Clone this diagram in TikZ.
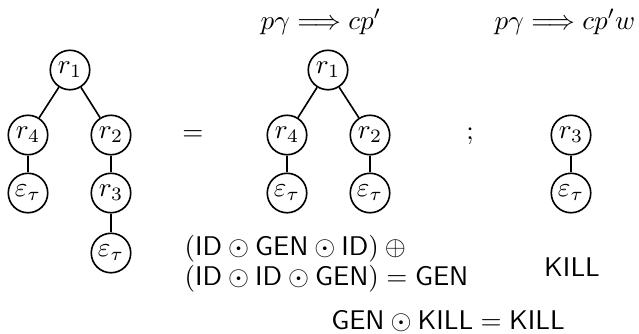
\documentclass[tikz,border=0pt]{standalone}
\begin{document}
\begin{tikzpicture}[x=0.37pt,y=-0.37pt,
  tn/.style={circle,draw,line width=0.6pt,minimum size=14.6pt,inner sep=0pt},
  edge/.style={line width=0.6pt},
  lbl/.style={inner sep=0pt,anchor=base}]
\useasboundingbox (0,0) rectangle (639,333);
% left tree
\node[tn] (a1) at (70,70) {$r_1$};
\node[tn] (a4) at (28,135) {$r_4$};
\node[tn] (a2) at (111,135) {$r_2$};
\node[tn] (ae1) at (28,193) {$\varepsilon_\tau$};
\node[tn] (a3) at (111,193) {$r_3$};
\node[tn] (ae2) at (111,253) {$\varepsilon_\tau$};
\draw[edge] (a1) -- (a4);
\draw[edge] (a1) -- (a2);
\draw[edge] (a4) -- (ae1);
\draw[edge] (a2) -- (a3);
\draw[edge] (a3) -- (ae2);
% middle tree
\node[tn] (b1) at (328,70) {$r_1$};
\node[tn] (b4) at (287,135) {$r_4$};
\node[tn] (b2) at (370,135) {$r_2$};
\node[tn] (be1) at (287,193) {$\varepsilon_\tau$};
\node[tn] (be2) at (370,193) {$\varepsilon_\tau$};
\draw[edge] (b1) -- (b4);
\draw[edge] (b1) -- (b2);
\draw[edge] (b4) -- (be1);
\draw[edge] (b2) -- (be2);
% right tree
\node[tn] (c3) at (571,135) {$r_3$};
\node[tn] (ce) at (571,193) {$\varepsilon_\tau$};
\draw[edge] (c3) -- (ce);
% symbols and labels
\node[lbl] (eq) at (193,140) {$=$};
\node[lbl] (sc) at (470,139) {$;$};
\node[lbl] (t1) at (321,29) {$p\gamma \Longrightarrow cp'$};
\node[lbl] (t2) at (565,29) {$p\gamma \Longrightarrow cp'w$};
\node[lbl,anchor=base west] (l1) at (184,255) {$(\textsf{ID} \odot \textsf{GEN} \odot \textsf{ID}) \oplus{}$};
\node[lbl,anchor=base west] (l2) at (184,285) {$(\textsf{ID} \odot \textsf{ID} \odot \textsf{GEN}) = \textsf{GEN}$};
\node[lbl] (kill) at (572,276) {\textsf{KILL}};
\node[lbl] (bot) at (448,329) {$\textsf{GEN} \odot \textsf{KILL} = \textsf{KILL}$};
\end{tikzpicture}
\end{document}
